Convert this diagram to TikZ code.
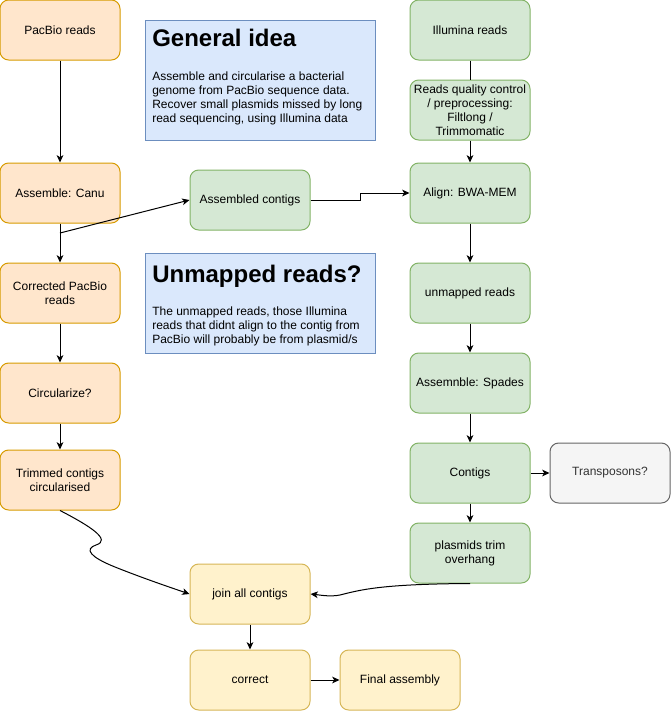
\documentclass[tikz,border=0pt]{standalone}
\usepackage{fontspec}
\setmainfont{Liberation Sans}
\usetikzlibrary{arrows.meta}
\definecolor{ofill}{HTML}{FFE6CC}\definecolor{odraw}{HTML}{D79B00}
\definecolor{gfill}{HTML}{D5E8D4}\definecolor{gdraw}{HTML}{82B366}
\definecolor{yfill}{HTML}{FFF2CC}\definecolor{ydraw}{HTML}{D6B656}
\definecolor{sfill}{HTML}{F5F5F5}\definecolor{sdraw}{HTML}{666666}\definecolor{stext}{HTML}{333333}
\definecolor{bfill}{HTML}{DAE8FC}\definecolor{bdraw}{HTML}{6C8EBF}
\tikzset{
  box/.style={rectangle, rounded corners=6.5pt, minimum width=90pt, minimum height=45pt,
    inner sep=1pt, align=center, line width=0.75pt,
    font=\fontsize{9pt}{10.5pt}\selectfont},
  obox/.style={box, fill=ofill, draw=odraw},
  gbox/.style={box, fill=gfill, draw=gdraw},
  ybox/.style={box, fill=yfill, draw=ydraw},
  sbox/.style={box, fill=sfill, draw=sdraw, text=stext},
  note/.style={fill=bfill, draw=bdraw, line width=0.75pt},
  ttl/.style={anchor=base west, inner sep=0pt, font=\fontsize{18pt}{21pt}\selectfont\bfseries},
  bdy/.style={anchor=base west, inner sep=0pt, font=\fontsize{9pt}{10.5pt}\selectfont},
  arr/.style={-{Stealth[length=5.5pt,width=5pt,inset=1.5pt]}, line width=0.75pt},
  ln/.style={line width=0.75pt}
}
\begin{document}
\begin{tikzpicture}[x=0.75pt,y=-0.75pt]
\useasboundingbox (0,0) rectangle (671,711);
% notes
\draw[note] (145,20) rectangle (375,140);
\node[ttl] (t1) at (152,46) {General idea};
\node[bdy] (b1) at (152,80) {\parbox[t]{170pt}{\baselineskip=10.5pt Assemble and circularise a bacterial\\genome from PacBio sequence data.\\Recover small plasmids missed by long\\read sequencing, using Illumina data}};
\draw[note] (145,253) rectangle (375,353);
\node[ttl] (t2) at (152,282) {Unmapped reads?};
\node[bdy] (b2) at (152,315) {\parbox[t]{170pt}{\baselineskip=10.5pt The unmapped reads, those Illumina\\reads that didnt align to the contig from\\PacBio will probably be from plasmid/s}};
% left column
\node[obox] (pacbio) at (60,30) {PacBio reads};
\node[obox] (canu) at (60,193) {Assemble: Canu};
\node[obox] (corr) at (60,293) {Corrected PacBio\\reads};
\node[obox] (circ) at (60,393) {Circularize?};
\node[obox] (trim) at (60,480) {Trimmed contigs\\circularised};
\node[gbox] (asm) at (250,200) {Assembled contigs};
% right column
\node[gbox] (ill) at (470,30) {Illumina reads};
\node[gbox] (qc) at (470,110) {Reads quality control\\/ preprocessing:\\Filtlong /\\Trimmomatic};
\node[gbox] (align) at (470,193) {Align: BWA-MEM};
\node[gbox] (unm) at (470,293) {unmapped reads};
\node[gbox] (spades) at (470,383) {Assemnble: Spades};
\node[gbox] (contigs) at (470,473) {Contigs};
\node[sbox] (trans) at (610,473) {Transposons?};
\node[gbox] (plas) at (470,553) {plasmids trim\\overhang};
% bottom
\node[ybox] (join) at (250,594) {join all contigs};
\node[ybox] (correct) at (250,680) {correct};
\node[ybox] (final) at (400,680) {Final assembly};
\coordinate (br) at (60,233);
% connectors
\draw[arr] (pacbio) -- (canu);
\draw[arr] (canu) -- (corr);
\draw[arr] (br) -- (asm.west);
\draw[arr] (corr) -- (circ);
\draw[arr] (circ) -- (trim);
\draw[arr] (trim.south) .. controls (90,526) and (112,540) .. (96,545)
   .. controls (84,549) and (90,557) .. (115,567)
   .. controls (145,579) and (175,589) .. (join.west);
\draw[arr] (asm.east) -- ++(50,0) |- (align.west);
\draw[ln] (ill) -- (qc);
\draw[arr] (qc) -- (align);
\draw[arr] (align) -- (unm);
\draw[arr] (unm) -- (spades);
\draw[arr] (spades) -- (contigs);
\draw[arr] (contigs) -- (trans);
\draw[arr] (contigs) -- (plas);
\draw[arr] (plas.south) .. controls (380,584) and (360,590) .. (340,595)
   .. controls (330,597) and (320,595) .. (join.east);
\draw[arr] (join) -- (correct);
\draw[arr] (correct) -- (final);
\end{tikzpicture}
\end{document}
